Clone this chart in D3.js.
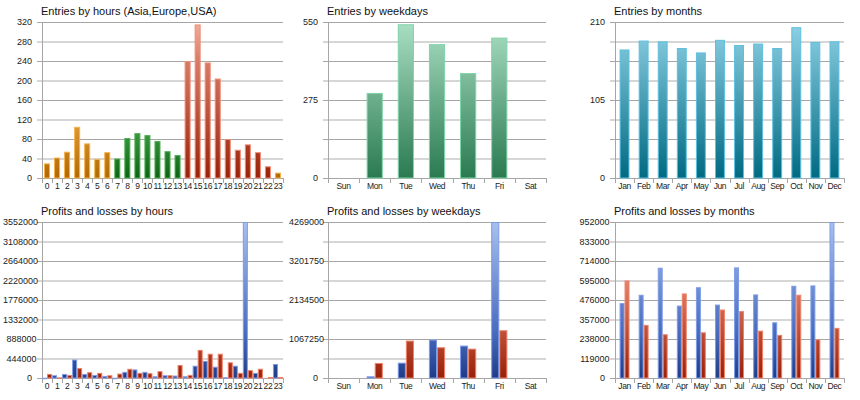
<!DOCTYPE html>
<html><head><meta charset="utf-8">
<script src="https://cdn.jsdelivr.net/npm/d3@7"></script>
<style>body{margin:0;background:#fff}svg{display:block}text{font-family:Arial,"Liberation Sans",sans-serif}</style>
</head><body><svg id="c" width="860" height="400"></svg>
<script>
// ---------- data ----------
const hours = ["0","1","2","3","4","5","6","7","8","9","10","11","12","13","14","15","16","17","18","19","20","21","22","23"];
const hourRegion = ["asia","asia","asia","asia","asia","asia","asia","europe","europe","europe","europe","europe","europe","europe","usa","usa","usa","usa","usa","usa","usa","usa","usa","asia"];
const hourEntries = [30,42,54,105,71,39,53,40,82,92,88,76,55,47,240,315,237,204,80,58,69,53,24,11];
const hourEntryTicks = [0,40,80,120,160,200,240,280,320];

const weekdays = ["Sun","Mon","Tue","Wed","Thu","Fri","Sat"];
const weekdayEntries = [0,300,542,472,370,495,0];
const weekdayEntryTicks = [0,275,550];

const months = ["Jan","Feb","Mar","Apr","May","Jun","Jul","Aug","Sep","Oct","Nov","Dec"];
const monthEntries = [173,185,184,175,169,186,179,181,175,203,183,184];
const monthEntryTicks = [0,105,210];

const hourProfits = [6000,62000,93000,420000,93000,70000,47000,6000,140000,195000,140000,39000,62000,55000,39000,280000,389000,257000,16000,280000,3552000,117000,0,319000];
const hourLosses  = [93000,15000,70000,226000,132000,117000,62000,101000,210000,117000,109000,156000,62000,296000,70000,640000,553000,553000,358000,117000,179000,210000,23000,23000];
const hourPLTicks = [0,444000,888000,1332000,1776000,2220000,2664000,3108000,3552000];

const weekdayProfits = [0,46000,420000,1051000,887000,4269000,0];
const weekdayLosses  = [0,411000,1024000,841000,804000,1307000,0];
const weekdayPLTicks = [0,1067250,2134500,3201750,4269000];

const monthProfits = [457000,508000,673000,442000,554000,448000,675000,510000,340000,563000,565000,952000];
const monthLosses  = [595000,324000,267000,516000,279000,418000,408000,289000,263000,508000,236000,306000];
const monthPLTicks = [0,119000,238000,357000,476000,595000,714000,833000,952000];

// ---------- styles ----------
const palettes = {
  asia:   {stroke:"#f4b34a", stops:[[0,"#ffd494"],[0.65,"#e09a38"],[1,"#b26800"]]},
  europe: {stroke:"#4fae52", stops:[[0,"#8ee08e"],[0.7,"#3a9a40"],[1,"#0c6412"]]},
  usa:    {stroke:"#ef8d76", stops:[[0,"#f2ae9e"],[0.25,"#d87a68"],[1,"#9a2208"]]},
  wk:     {stroke:"#80d4a8", stops:[[0,"#aadfc4"],[1,"#2a7a50"]]},
  mo:     {stroke:"#5cc0de", stops:[[0,"#90d2e6"],[1,"#006a82"]]},
  profit: {stroke:"#7c9ce6", stops:[[0,"#a8c0ee"],[0.7,"#4a6cc0"],[1,"#1e3c88"]]},
  loss:   {stroke:"#ef8068", stops:[[0,"#f4b0a0"],[0.4,"#e08068"],[1,"#9a2008"]]}
};

const svg = d3.select("#c");
const defs = svg.append("defs");

const panels = [
  {title:"Entries by hours (Asia,Europe,USA)", x0:42, x1:283, y0:22, y1:178, cats:hours,
   series:[{values:hourEntries, key:i=>hourRegion[i]}], ticks:hourEntryTicks, pad:0.4},
  {title:"Entries by weekdays", x0:328, x1:546, y0:22, y1:178, cats:weekdays,
   series:[{values:weekdayEntries, key:()=>"wk"}], ticks:weekdayEntryTicks, pad:0.48},
  {title:"Entries by months", x0:615, x1:844, y0:22, y1:178, cats:months,
   series:[{values:monthEntries, key:()=>"mo"}], ticks:monthEntryTicks, pad:0.48},
  {title:"Profits and losses by hours", x0:42, x1:283, y0:222, y1:378, cats:hours,
   series:[{values:hourProfits, key:()=>"profit"},{values:hourLosses, key:()=>"loss"}], ticks:hourPLTicks, pad:0.0},
  {title:"Profits and losses by weekdays", x0:328, x1:546, y0:222, y1:378, cats:weekdays,
   series:[{values:weekdayProfits, key:()=>"profit"},{values:weekdayLosses, key:()=>"loss"}], ticks:weekdayPLTicks, pad:0.48},
  {title:"Profits and losses by months", x0:615, x1:844, y0:222, y1:378, cats:months,
   series:[{values:monthProfits, key:()=>"profit"},{values:monthLosses, key:()=>"loss"}], ticks:monthPLTicks, pad:0.48}
];

panels.forEach((p, pi) => {
  const g = svg.append("g");
  const max = p.ticks[p.ticks.length-1];
  const y = d3.scaleLinear().domain([0,max]).range([p.y1,p.y0]);
  const x = d3.scaleBand().domain(p.cats).range([p.x0,p.x1]).paddingInner(p.pad).paddingOuter(p.pad/2);
  const sub = d3.scaleBand().domain(d3.range(p.series.length)).range([0,x.bandwidth()]);

  const gradId = k => `g${pi}-${k}`;
  const keys = new Set();
  p.series.forEach(s => p.cats.forEach((c,i)=>keys.add(s.key(i))));
  keys.forEach(k => {
    const lg = defs.append("linearGradient").attr("id",gradId(k))
      .attr("gradientUnits","userSpaceOnUse").attr("x1",0).attr("x2",0).attr("y1",p.y0).attr("y2",p.y1);
    palettes[k].stops.forEach(s => lg.append("stop").attr("offset",s[0]).attr("stop-color",s[1]));
  });

  const grid = d3.range(9).map(i => max*i/8);
  grid.forEach((v,i) => {
    const yy = Math.round(y(v));
    g.append("line").attr("x1",p.x0-5).attr("x2",p.x1)
      .attr("y1", i%2 ? yy : yy+0.5).attr("y2", i%2 ? yy : yy+0.5)
      .attr("stroke", i%2 ? "#d6d6d6" : "#a6a6a6").attr("stroke-width", i%2 ? 2 : 1);
  });

  g.append("line").attr("x1",p.x0+0.5).attr("x2",p.x0+0.5).attr("y1",p.y0).attr("y2",p.y1+5)
    .attr("stroke","#a6a6a6");

  const step = x.step();
  d3.range(p.cats.length+1).forEach(i => {
    const xx = Math.round(p.x0 + i*step) + 0.5;
    g.append("line").attr("x1",xx).attr("x2",xx).attr("y1",p.y1).attr("y2",p.y1+5).attr("stroke","#a6a6a6");
  });

  p.series.forEach((s, si) => {
    p.cats.forEach((c, i) => {
      const v = s.values[i];
      if (!v) return;
      const bx = x(c) + sub(si);
      const bw = sub.bandwidth();
      const top = y(Math.min(v,max));
      const h = p.y1 - top;
      const k = s.key(i);
      g.append("rect").attr("x",bx+0.5).attr("y",top+0.5)
        .attr("width",Math.max(0,bw-1)).attr("height",Math.max(0.5,h-0.5))
        .attr("fill",`url(#${gradId(k)})`).attr("stroke",palettes[k].stroke).attr("stroke-width",1);
    });
  });

  p.ticks.forEach(v => {
    const t = String(v);
    g.append("text").attr("x", p.x0 - 10 + Math.max(0,t.length-3)*1.5).attr("y", y(v)+3)
      .attr("text-anchor","end").attr("font-size","9px").attr("fill","#222").text(t);
  });

  p.cats.forEach(c => {
    g.append("text").attr("x", x(c)+x.bandwidth()/2).attr("y", p.y1+11)
      .attr("text-anchor","middle").attr("font-size","8.5px").attr("letter-spacing","-0.4px")
      .attr("fill","#222").text(c);
  });

  g.append("text").attr("x",p.x0-1).attr("y",p.y0-7).attr("font-size","11px").attr("fill","#111").text(p.title);
});
</script></body></html>
